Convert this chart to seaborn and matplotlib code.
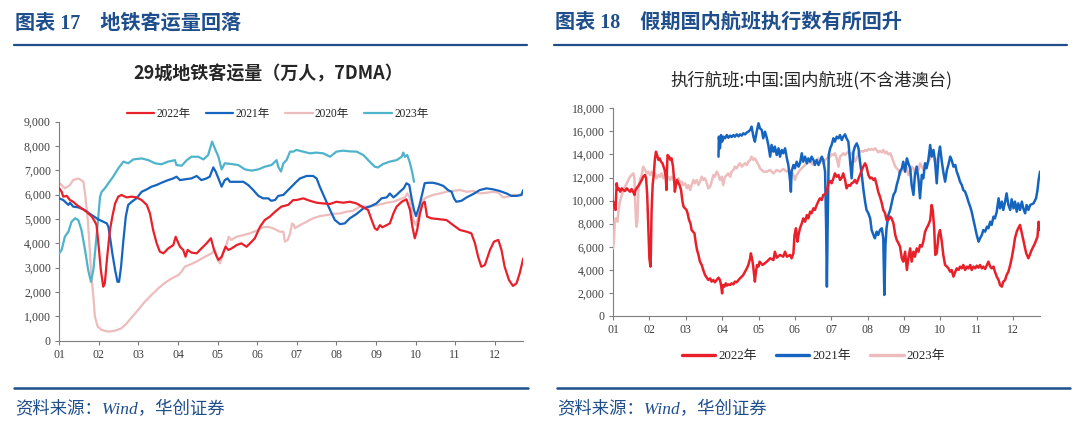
import numpy as np
import matplotlib
matplotlib.use("Agg")
import matplotlib.pyplot as plt
import matplotlib.ticker as mticker
from matplotlib.lines import Line2D
import seaborn as sns
import pandas as pd

# -----------------------------
# Data  (x = month position, 0 = 1 Jan, 1 = 1 Feb ...)
# -----------------------------
month_labels = ["01", "02", "03", "04", "05", "06", "07", "08", "09", "10", "11", "12"]

# 29-city metro ridership, 7DMA (万人)
metro_2022 = [(0.00, 6260), (0.06, 6120), (0.10, 5920), (0.19, 5950), (0.27, 5780), (0.35, 5710), (0.44, 5580),
              (0.56, 5440), (0.69, 5300), (0.82, 5100), (0.90, 4890), (0.94, 4750), (0.98, 4140), (1.05, 2900),
              (1.11, 2220), (1.15, 2360), (1.21, 3450), (1.28, 4550), (1.34, 5100), (1.41, 5640), (1.49, 5920),
              (1.57, 5990), (1.70, 5890), (1.83, 5920), (1.95, 5890), (2.08, 5780), (2.21, 5580), (2.29, 5230),
              (2.37, 4550), (2.46, 4000), (2.54, 3660), (2.63, 3590), (2.75, 3790), (2.88, 3930), (2.94, 4270),
              (2.99, 4070), (3.05, 3860), (3.13, 3730), (3.19, 3450), (3.24, 3730), (3.34, 3620), (3.47, 3590),
              (3.59, 3790), (3.72, 4000), (3.83, 4210), (3.91, 3730), (3.96, 3520), (4.02, 3320), (4.10, 3450),
              (4.20, 3860), (4.27, 3730), (4.35, 3790), (4.48, 3930), (4.60, 4000), (4.73, 3860), (4.86, 4070),
              (4.94, 4210), (5.07, 4680), (5.19, 4960), (5.32, 5100), (5.45, 5300), (5.61, 5510), (5.78, 5580),
              (5.91, 5780), (5.99, 5780), (6.16, 5850), (6.33, 5750), (6.50, 5670), (6.67, 5640), (6.84, 5620),
              (7.00, 5710), (7.17, 5670), (7.34, 5710), (7.51, 5640), (7.68, 5480), (7.80, 5370), (7.89, 4960),
              (7.97, 4620), (8.03, 4550), (8.10, 4750), (8.16, 4660), (8.27, 4750), (8.35, 4820), (8.44, 5230),
              (8.52, 5510), (8.65, 5710), (8.77, 5810), (8.86, 5370), (8.92, 4680), (8.98, 4210), (9.04, 4550),
              (9.11, 5230), (9.18, 5640), (9.23, 5710), (9.29, 5100), (9.40, 5030), (9.61, 4990), (9.78, 4960),
              (9.95, 4750), (10.12, 4550), (10.29, 4480), (10.41, 4410), (10.50, 4000), (10.58, 3450), (10.66, 3040),
              (10.75, 3110), (10.88, 3730), (10.98, 4070), (11.09, 4140), (11.17, 3730), (11.25, 3040), (11.36, 2490),
              (11.46, 2250), (11.55, 2360), (11.63, 2770), (11.72, 3380)]

metro_2021 = [(0.00, 5850), (0.10, 5780), (0.19, 5640), (0.23, 5580), (0.27, 5670), (0.35, 5510), (0.48, 5480),
              (0.61, 5400), (0.73, 5260), (0.86, 5120), (0.98, 4990), (1.11, 4890), (1.20, 4820), (1.24, 4680),
              (1.28, 4270), (1.34, 3590), (1.41, 2900), (1.47, 2420), (1.51, 2420), (1.56, 3040), (1.62, 4140),
              (1.68, 5100), (1.74, 5580), (1.83, 5710), (1.95, 5850), (2.08, 6120), (2.21, 6220), (2.33, 6330),
              (2.46, 6400), (2.58, 6490), (2.75, 6600), (2.88, 6670), (2.96, 6740), (3.05, 6600), (3.17, 6630),
              (3.34, 6670), (3.47, 6770), (3.59, 6600), (3.72, 6670), (3.80, 6740), (3.89, 7120), (3.95, 6950),
              (4.02, 6670), (4.10, 6330), (4.18, 6600), (4.25, 6670), (4.31, 6530), (4.48, 6530), (4.65, 6530),
              (4.77, 6400), (4.90, 6190), (5.03, 5950), (5.15, 5850), (5.28, 5850), (5.35, 5750), (5.45, 5780),
              (5.53, 5950), (5.66, 5990), (5.78, 6190), (5.91, 6400), (5.95, 6470), (6.08, 6670), (6.25, 6770),
              (6.41, 6770), (6.50, 6670), (6.58, 6330), (6.71, 5850), (6.84, 5370), (6.96, 4960), (7.09, 4790),
              (7.21, 4820), (7.34, 5030), (7.51, 5210), (7.68, 5440), (7.84, 5510), (8.01, 5640), (8.14, 5850),
              (8.27, 5890), (8.35, 6050), (8.44, 5890), (8.52, 5990), (8.60, 6120), (8.70, 6260), (8.77, 6470),
              (8.84, 6400), (8.90, 5850), (8.96, 5370), (9.01, 5120), (9.09, 5510), (9.18, 6120), (9.23, 6470),
              (9.31, 6490), (9.44, 6490), (9.57, 6440), (9.70, 6360), (9.82, 6190), (9.91, 6120), (9.97, 5850),
              (10.03, 5710), (10.16, 5750), (10.29, 5890), (10.46, 6030), (10.62, 6190), (10.79, 6260), (10.96, 6220),
              (11.13, 6150), (11.30, 6050), (11.42, 5950), (11.55, 5950), (11.67, 5990), (11.72, 6190)]

metro_2020 = [(0.00, 6470), (0.06, 6400), (0.14, 6260), (0.27, 6400), (0.35, 6600), (0.48, 6670), (0.55, 6600),
              (0.61, 6530), (0.66, 5920), (0.72, 4960), (0.76, 4000), (0.80, 2900), (0.86, 1810), (0.90, 990),
              (0.97, 580), (1.07, 440), (1.24, 370), (1.41, 410), (1.57, 510), (1.70, 710), (1.83, 960), (1.99, 1260),
              (2.16, 1600), (2.33, 1880), (2.50, 2150), (2.67, 2380), (2.84, 2560), (3.01, 2700), (3.09, 2840),
              (3.17, 3040), (3.34, 3150), (3.51, 3290), (3.68, 3450), (3.85, 3590), (3.93, 3730), (4.00, 3320),
              (4.06, 3180), (4.14, 3590), (4.23, 4000), (4.28, 4270), (4.34, 4140), (4.48, 4270), (4.65, 4340),
              (4.81, 4410), (4.98, 4520), (5.15, 4660), (5.28, 4680), (5.40, 4620), (5.57, 4480), (5.66, 4480),
              (5.70, 4070), (5.77, 4140), (5.83, 4410), (5.88, 4820), (5.93, 4750), (5.95, 4620), (6.08, 4750),
              (6.25, 4890), (6.41, 5030), (6.58, 5120), (6.75, 5160), (6.92, 5210), (7.09, 5230), (7.25, 5300),
              (7.42, 5340), (7.59, 5510), (7.76, 5510), (7.93, 5530), (8.10, 5600), (8.27, 5670), (8.44, 5710),
              (8.60, 5810), (8.73, 5890), (8.79, 6050), (8.86, 5850), (8.94, 4960), (9.01, 4750), (9.09, 5230),
              (9.18, 5780), (9.28, 5890), (9.44, 5990), (9.61, 6050), (9.78, 6120), (9.95, 6160), (10.12, 6190),
              (10.29, 6120), (10.46, 6150), (10.62, 6050), (10.79, 6080), (10.96, 6120), (11.09, 6080), (11.21, 5890),
              (11.34, 5920), (11.46, 5990), (11.59, 5990), (11.72, 5990)]

metro_2023 = [(0.00, 3590), (0.06, 3730), (0.14, 4270), (0.23, 4480), (0.31, 4890), (0.40, 5030), (0.48, 4960),
              (0.56, 4550), (0.65, 3730), (0.73, 2900), (0.80, 2420), (0.86, 2900), (0.94, 4270), (1.03, 5920),
              (1.07, 6120), (1.15, 6260), (1.24, 6470), (1.36, 6740), (1.49, 7080), (1.62, 7360), (1.74, 7290),
              (1.87, 7450), (2.08, 7490), (2.25, 7420), (2.42, 7290), (2.58, 7250), (2.75, 7360), (2.92, 7420),
              (2.96, 7220), (3.09, 7190), (3.22, 7420), (3.34, 7560), (3.51, 7560), (3.64, 7450), (3.76, 7630),
              (3.86, 8180), (3.93, 7900), (4.02, 7560), (4.10, 7040), (4.18, 7290), (4.35, 7260), (4.52, 7220),
              (4.69, 7040), (4.86, 6990), (5.03, 7040), (5.19, 7150), (5.36, 7220), (5.49, 7420), (5.53, 7150),
              (5.60, 6950), (5.66, 7290), (5.74, 7420), (5.83, 7770), (5.91, 7770), (5.99, 7840), (6.16, 7770),
              (6.33, 7700), (6.49, 7730), (6.67, 7700), (6.84, 7560), (7.00, 7770), (7.17, 7810), (7.34, 7780),
              (7.51, 7770), (7.68, 7630), (7.84, 7360), (7.97, 7150), (8.05, 7120), (8.18, 7260), (8.35, 7360),
              (8.52, 7420), (8.65, 7560), (8.69, 7730), (8.73, 7560), (8.79, 7630), (8.86, 7290), (8.92, 6880),
              (8.96, 6530)]

# Domestic flights executed (不含港澳台)
flights_2022 = [(0.00, 9970), (0.04, 9470), (0.07, 9190), (0.10, 11500), (0.13, 10920), (0.16, 11060), (0.20, 10770),
                (0.24, 11060), (0.28, 10920), (0.33, 10830), (0.38, 11060), (0.42, 10920), (0.47, 10770), (0.51, 11000),
                (0.56, 10720), (0.59, 10490), (0.62, 10920), (0.66, 11120), (0.70, 11290), (0.74, 11500), (0.79, 11790),
                (0.83, 12070), (0.88, 12220), (0.91, 11930), (0.94, 10490), (0.97, 7600), (1.00, 5000), (1.03, 4280),
                (1.04, 5290), (1.06, 9040), (1.09, 11350), (1.12, 12220), (1.15, 13520), (1.18, 14240), (1.21, 13950),
                (1.25, 13520), (1.28, 13660), (1.32, 13370), (1.36, 13230), (1.39, 12940), (1.42, 12650), (1.45, 12070),
                (1.47, 10920), (1.48, 12360), (1.50, 13950), (1.54, 13810), (1.58, 13520), (1.61, 13660), (1.65, 12940),
                (1.68, 11790), (1.70, 10770), (1.73, 11350), (1.76, 11790), (1.80, 11500), (1.83, 11350), (1.87, 10920),
                (1.91, 9910), (1.94, 9470), (1.98, 9330), (2.02, 9190), (2.05, 8900), (2.09, 8320), (2.13, 8030),
                (2.16, 7450), (2.20, 7310), (2.24, 7160), (2.27, 6440), (2.31, 5720), (2.35, 5290), (2.39, 4710),
                (2.44, 4420), (2.48, 3990), (2.53, 3550), (2.58, 3320), (2.62, 3120), (2.67, 3260), (2.71, 2980),
                (2.76, 3120), (2.80, 2920), (2.85, 3120), (2.90, 3320), (2.94, 3120), (2.97, 2690), (3.00, 1960),
                (3.02, 2690), (3.06, 2540), (3.10, 2830), (3.13, 2630), (3.17, 2740), (3.22, 2690), (3.26, 2830),
                (3.31, 2740), (3.35, 2980), (3.40, 2920), (3.45, 3120), (3.49, 3260), (3.54, 3410), (3.58, 3550),
                (3.63, 3840), (3.68, 4130), (3.72, 4420), (3.77, 5000), (3.79, 5430), (3.82, 5000), (3.85, 4420),
                (3.88, 3550), (3.90, 2980), (3.93, 3840), (3.96, 4420), (4.00, 4280), (4.03, 4710), (4.07, 4560),
                (4.11, 4420), (4.23, 4710), (4.32, 5000), (4.41, 4850), (4.45, 5570), (4.50, 5050), (4.59, 5290),
                (4.68, 5140), (4.73, 5570), (4.78, 5140), (4.87, 5290), (4.91, 5000), (4.96, 5430), (4.99, 7020),
                (5.03, 7600), (5.07, 6440), (5.10, 7020), (5.14, 7600), (5.19, 8030), (5.23, 8460), (5.28, 8170),
                (5.33, 8750), (5.37, 8460), (5.42, 9040), (5.46, 8900), (5.51, 9330), (5.55, 9190), (5.60, 9620),
                (5.65, 9970), (5.69, 10200), (5.74, 10050), (5.78, 10490), (5.83, 10540), (5.88, 10770), (5.92, 11500),
                (5.97, 11700), (6.01, 11500), (6.06, 11930), (6.10, 12360), (6.15, 12070), (6.20, 12220), (6.24, 11790),
                (6.29, 11990), (6.33, 12360), (6.38, 11790), (6.42, 11060), (6.47, 11350), (6.52, 11290), (6.56, 11500),
                (6.61, 11580), (6.65, 11790), (6.70, 11500), (6.75, 11930), (6.79, 12220), (6.84, 12650), (6.88, 12940),
                (6.93, 13230), (6.97, 12940), (7.02, 12220), (7.07, 11930), (7.11, 11990), (7.16, 11790), (7.20, 11930),
                (7.25, 11350), (7.29, 10770), (7.34, 10340), (7.39, 9760), (7.43, 9190), (7.48, 8900), (7.52, 8320),
                (7.57, 8320), (7.62, 8610), (7.66, 8460), (7.71, 8030), (7.76, 7020), (7.80, 6590), (7.85, 6300),
                (7.89, 6010), (7.94, 5000), (7.98, 4710), (8.03, 5570), (8.08, 3990), (8.12, 5000), (8.17, 5860),
                (8.21, 4710), (8.26, 5570), (8.30, 5140), (8.35, 5860), (8.40, 5570), (8.44, 6150), (8.49, 6010),
                (8.53, 6440), (8.58, 7310), (8.62, 7600), (8.67, 7890), (8.72, 8320), (8.76, 9620), (8.79, 9190),
                (8.83, 7600), (8.86, 5290), (8.90, 5430), (8.95, 7020), (8.99, 7450), (9.04, 6440), (9.08, 5290),
                (9.13, 4420), (9.18, 4280), (9.22, 4130), (9.27, 3840), (9.31, 3990), (9.36, 3410), (9.41, 3840),
                (9.45, 4130), (9.50, 3990), (9.54, 4280), (9.59, 4130), (9.63, 4420), (9.68, 3990), (9.73, 4280),
                (9.77, 4130), (9.82, 4420), (9.86, 3990), (9.91, 4280), (9.96, 4130), (10.00, 4360), (10.05, 4190),
                (10.09, 4420), (10.14, 4130), (10.18, 4280), (10.23, 4070), (10.28, 4420), (10.32, 4710), (10.37, 4280),
                (10.41, 4130), (10.46, 4280), (10.50, 3840), (10.55, 3410), (10.60, 3120), (10.64, 2690), (10.69, 2540),
                (10.73, 2980), (10.78, 3120), (10.82, 3550), (10.87, 3840), (10.92, 4420), (10.96, 5000), (11.01, 5860),
                (11.05, 6730), (11.10, 7310), (11.14, 7600), (11.19, 7890), (11.24, 7160), (11.30, 6300), (11.36, 5430),
                (11.42, 5000), (11.51, 5720), (11.60, 6300), (11.67, 6870), (11.70, 8170), (11.74, 7450)]

flights_2021 = [(2.90, 13810), (2.91, 15540), (2.94, 14530), (2.97, 15680), (3.00, 15110), (3.04, 15540), (3.08, 15400),
                (3.13, 15680), (3.17, 15450), (3.22, 15630), (3.26, 15510), (3.31, 15680), (3.35, 15540), (3.40, 15740),
                (3.45, 15570), (3.49, 15740), (3.54, 15630), (3.58, 15830), (3.63, 15740), (3.68, 15910), (3.72, 15970),
                (3.77, 16120), (3.81, 16410), (3.86, 15540), (3.90, 15110), (3.95, 15970), (4.00, 16700), (4.04, 16260),
                (4.09, 16120), (4.13, 15400), (4.18, 15970), (4.23, 15400), (4.27, 14820), (4.32, 13810), (4.36, 14820),
                (4.41, 14240), (4.45, 14680), (4.50, 13950), (4.55, 14530), (4.59, 13810), (4.64, 14390), (4.68, 14100),
                (4.73, 14530), (4.78, 13660), (4.82, 13090), (4.87, 11640), (4.89, 10770), (4.91, 12510), (4.96, 13090),
                (5.00, 12800), (5.05, 13370), (5.10, 12940), (5.14, 13230), (5.19, 14100), (5.23, 13370), (5.28, 13810),
                (5.33, 13230), (5.37, 13660), (5.42, 13370), (5.46, 13810), (5.51, 13520), (5.55, 13090), (5.60, 13520),
                (5.65, 13090), (5.69, 13370), (5.74, 13810), (5.78, 13520), (5.83, 12510), (5.86, 7600), (5.88, 2540),
                (5.90, 7600), (5.93, 13950), (5.97, 14530), (6.01, 14820), (6.06, 15400), (6.10, 15110), (6.15, 15540),
                (6.20, 15400), (6.24, 15680), (6.29, 15250), (6.33, 15540), (6.38, 15740), (6.42, 15400), (6.47, 15110),
                (6.52, 13370), (6.56, 11930), (6.61, 14240), (6.65, 14680), (6.70, 14960), (6.75, 14530), (6.79, 13370),
                (6.84, 12220), (6.88, 11060), (6.93, 9910), (6.97, 9190), (7.02, 8900), (7.07, 8460), (7.11, 7450),
                (7.16, 7020), (7.20, 6730), (7.25, 7310), (7.29, 7020), (7.34, 7450), (7.39, 7600), (7.43, 6730),
                (7.46, 1820), (7.49, 6150), (7.52, 7600), (7.57, 8750), (7.62, 9190), (7.66, 9760), (7.71, 10490),
                (7.76, 10770), (7.80, 11350), (7.85, 11930), (7.89, 12510), (7.94, 12800), (7.98, 13370), (8.03, 12510),
                (8.08, 13660), (8.12, 13230), (8.17, 12800), (8.21, 11350), (8.26, 10490), (8.30, 12220), (8.35, 12940),
                (8.40, 11790), (8.44, 10200), (8.49, 12220), (8.53, 11930), (8.58, 13230), (8.62, 12800), (8.67, 13520),
                (8.72, 14820), (8.76, 13810), (8.81, 14390), (8.85, 13520), (8.90, 11500), (8.95, 13950), (8.99, 14680),
                (9.04, 13370), (9.08, 12510), (9.13, 11640), (9.18, 12650), (9.22, 13090), (9.27, 13810), (9.31, 13520),
                (9.36, 12940), (9.41, 13090), (9.45, 12510), (9.50, 12070), (9.54, 11640), (9.59, 11350), (9.63, 10920),
                (9.68, 10770), (9.73, 10340), (9.77, 9910), (9.82, 9470), (9.86, 9040), (9.91, 8320), (9.96, 7600),
                (10.00, 7020), (10.05, 6440), (10.09, 6730), (10.14, 7020), (10.18, 7450), (10.23, 7310), (10.28, 7740),
                (10.32, 7600), (10.37, 8170), (10.41, 7890), (10.46, 8610), (10.50, 8460), (10.55, 9040), (10.60, 10200),
                (10.64, 9330), (10.69, 9910), (10.73, 9190), (10.78, 9910), (10.82, 10630), (10.87, 9620), (10.92, 9190),
                (10.96, 10110), (11.01, 9330), (11.05, 9910), (11.10, 9040), (11.14, 9760), (11.19, 9190), (11.24, 9910),
                (11.28, 9330), (11.33, 8900), (11.37, 9620), (11.42, 9190), (11.47, 9620), (11.56, 9760), (11.63, 10200),
                (11.67, 10920), (11.70, 11790), (11.74, 12510)]

flights_2023 = [(0.00, 5860), (0.03, 6730), (0.05, 8320), (0.08, 8460), (0.12, 8170), (0.15, 9040), (0.19, 9910),
                (0.24, 10490), (0.28, 10770), (0.33, 11210), (0.38, 11500), (0.42, 11790), (0.47, 12070), (0.51, 12220),
                (0.56, 12360), (0.59, 11930), (0.61, 9910), (0.64, 7740), (0.67, 8170), (0.70, 11060), (0.74, 11790),
                (0.79, 12220), (0.83, 12940), (0.88, 12650), (0.93, 12360), (0.97, 12510), (1.02, 12220), (1.06, 12510),
                (1.11, 12070), (1.15, 12360), (1.20, 11930), (1.25, 12220), (1.29, 12070), (1.34, 12360), (1.38, 11930),
                (1.43, 12220), (1.48, 11930), (1.52, 12070), (1.57, 11790), (1.61, 12070), (1.66, 11790), (1.70, 11930),
                (1.75, 11640), (1.80, 11930), (1.84, 11500), (1.89, 11640), (1.93, 11350), (1.98, 11500), (2.03, 11060),
                (2.07, 11350), (2.12, 10920), (2.16, 11350), (2.21, 11790), (2.25, 11500), (2.30, 11790), (2.35, 11350),
                (2.39, 11640), (2.44, 12070), (2.48, 11790), (2.53, 11930), (2.58, 11500), (2.62, 11060), (2.67, 11210),
                (2.71, 11640), (2.76, 12220), (2.80, 12070), (2.85, 12510), (2.90, 12220), (2.94, 11790), (2.99, 12070),
                (3.03, 11350), (3.08, 12070), (3.13, 12220), (3.17, 12360), (3.22, 12070), (3.26, 12510), (3.31, 12650),
                (3.35, 12940), (3.40, 12800), (3.45, 13090), (3.49, 13230), (3.54, 12940), (3.58, 13090), (3.63, 13230),
                (3.68, 13090), (3.72, 13370), (3.77, 13520), (3.81, 13810), (3.86, 13520), (3.90, 13660), (3.95, 13370),
                (4.00, 13090), (4.04, 12800), (4.09, 12650), (4.13, 12510), (4.23, 12510), (4.32, 12650), (4.41, 12360),
                (4.50, 12650), (4.59, 12510), (4.68, 12740), (4.78, 12510), (4.87, 12650), (4.96, 12220), (5.00, 11790),
                (5.05, 12220), (5.14, 12650), (5.23, 12940), (5.33, 13230), (5.42, 13370), (5.51, 13090), (5.55, 13370),
                (5.60, 13520), (5.65, 13660), (5.69, 13370), (5.74, 13660), (5.78, 13230), (5.83, 13520), (5.88, 13660),
                (5.97, 13810), (6.01, 14010), (6.06, 13950), (6.10, 14100), (6.15, 13660), (6.20, 12940), (6.24, 13810),
                (6.29, 13950), (6.33, 14100), (6.38, 13950), (6.42, 14100), (6.47, 14240), (6.52, 14010), (6.56, 14100),
                (6.61, 13810), (6.65, 13370), (6.70, 13660), (6.75, 14100), (6.79, 14240), (6.84, 14300), (6.88, 14240),
                (6.93, 14390), (6.97, 14300), (7.02, 14470), (7.07, 14390), (7.11, 14470), (7.16, 14390), (7.20, 14530),
                (7.25, 14390), (7.29, 14180), (7.34, 14300), (7.39, 14180), (7.43, 14390), (7.48, 14100), (7.52, 14240),
                (7.57, 14010), (7.62, 14100), (7.66, 13810), (7.71, 13370), (7.76, 12940), (7.80, 12800), (7.85, 12650),
                (7.89, 12220), (7.94, 12650), (7.98, 12940), (8.03, 12510), (8.08, 12800), (8.12, 12220), (8.17, 12510),
                (8.21, 12940), (8.26, 12800), (8.30, 12360), (8.35, 12940), (8.40, 12650), (8.44, 13230), (8.49, 12940),
                (8.53, 12650), (8.58, 13230), (8.62, 13090), (8.67, 13370), (8.72, 13660), (8.76, 14240), (8.81, 13950),
                (8.86, 13230), (8.92, 13660)]

# -----------------------------
# Style
# -----------------------------
RED, BLUE, PINK, CYAN = "#E8202A", "#1565C0", "#EDBCBC", "#4FB3CB"
NAVY = "#1F4E8C"
SERIF = ["Liberation Serif", "Noto Sans CJK SC"]
CJK = ["Noto Sans CJK SC", "DejaVu Sans"]

sns.set_style("ticks")
plt.rcParams["font.family"] = SERIF
plt.rcParams["axes.unicode_minus"] = False


def to_df(pairs):
    return pd.DataFrame(pairs, columns=["month", "value"])


def style_axis(ax, ymax, ystep, xmax):
    ax.set_xlim(0, xmax)
    ax.set_ylim(0, ymax)
    ax.set_yticks(np.arange(0, ymax + 1, ystep))
    ax.set_xticks(range(12))
    ax.set_xticklabels(month_labels)
    ax.yaxis.set_major_formatter(mticker.FuncFormatter(lambda v, p: f"{int(v):,}"))
    for s in ["top", "right"]:
        ax.spines[s].set_visible(False)
    for s in ["left", "bottom"]:
        ax.spines[s].set_color("#7F7F7F")
        ax.spines[s].set_linewidth(0.8)
    ax.tick_params(axis="both", direction="out", length=3, width=0.8, color="#7F7F7F",
                   labelsize=8.6, labelcolor="#404040", pad=3)
    ax.set_xlabel("")
    ax.set_ylabel("")
    for lbl in ax.get_xticklabels() + ax.get_yticklabels():
        lbl.set_family(SERIF)


fig = plt.figure(figsize=(10.8, 4.37), dpi=100)

# -----------------------------
# Left panel: metro ridership
# -----------------------------
ax1 = fig.add_axes([0.0549, 0.2204, 0.4296, 0.5011])
left_series = [("2022年", metro_2022, RED, 5), ("2021年", metro_2021, BLUE, 4),
               ("2020年", metro_2020, PINK, 2), ("2023年", metro_2023, CYAN, 3)]
for name, pairs, col, z in left_series:
    d = to_df(pairs)
    sns.lineplot(data=d, x="month", y="value", ax=ax1, color=col, linewidth=1.6,
                 sort=False, estimator=None, zorder=z, legend=False)
style_axis(ax1, 9000, 1000, 11.72)

handles1 = [Line2D([0], [0], color=c, lw=1.6) for _, _, c, _ in left_series]
fig.legend(handles1, [n for n, _, _, _ in left_series], loc="center", bbox_to_anchor=(0.257, 0.740),
           ncol=4, frameon=False, handlelength=2.4, handletextpad=0.2, columnspacing=1.3,
           prop={"family": SERIF, "size": 8.3})

fig.text(0.248, 0.831, "29城地铁客运量（万人，7DMA）", ha="center", va="center",
         fontsize=13, fontweight="bold", family=CJK, color="#262626")

# -----------------------------
# Right panel: domestic flights
# -----------------------------
ax2 = fig.add_axes([0.5676, 0.2769, 0.3954, 0.4753])
right_series = [("2022年", flights_2022, RED, 5), ("2021年", flights_2021, BLUE, 4),
                ("2023年", flights_2023, PINK, 3)]
for name, pairs, col, z in right_series:
    d = to_df(pairs)
    sns.lineplot(data=d, x="month", y="value", ax=ax2, color=col, linewidth=1.8,
                 sort=False, estimator=None, zorder=z, legend=False)
style_axis(ax2, 18000, 2000, 11.74)

handles2 = [Line2D([0], [0], color=c, lw=2.4) for _, _, c, _ in right_series]
fig.legend(handles2, [n for n, _, _, _ in right_series], loc="center", bbox_to_anchor=(0.753, 0.185),
           ncol=3, frameon=False, handlelength=2.6, handletextpad=0.2, columnspacing=1.5,
           prop={"family": SERIF, "size": 9.3})

fig.text(0.751, 0.817, "执行航班:中国:国内航班(不含港澳台)", ha="center", va="center",
         fontsize=12.5, family=CJK, color="#262626")

# -----------------------------
# Report frame: headers, rules, sources
# -----------------------------
fig.text(0.0139, 0.947, "图表 17    地铁客运量回落", ha="left", va="center", fontsize=14.5,
         fontweight="bold", family=SERIF, color=NAVY)
fig.text(0.514, 0.947, "图表 18    假期国内航班执行数有所回升", ha="left", va="center", fontsize=14.5,
         fontweight="bold", family=SERIF, color=NAVY)

for x0, x1 in [(0.013, 0.488), (0.513, 0.988)]:
    fig.add_artist(Line2D([x0, x1], [0.897, 0.897], transform=fig.transFigure, color=NAVY, lw=1.6))
for x0, x1 in [(0.013, 0.489), (0.516, 0.991)]:
    fig.add_artist(Line2D([x0, x1], [0.112, 0.112], transform=fig.transFigure, color=NAVY, lw=1.8))

fig.text(0.0139, 0.062, "资料来源：Wind，华创证券", ha="left", va="center", fontsize=12.5,
         style="italic", family=SERIF, color=NAVY)
fig.text(0.516, 0.062, "资料来源：Wind，华创证券", ha="left", va="center", fontsize=12.5,
         style="italic", family=SERIF, color=NAVY)

fig.savefig("out.png", dpi=100)
